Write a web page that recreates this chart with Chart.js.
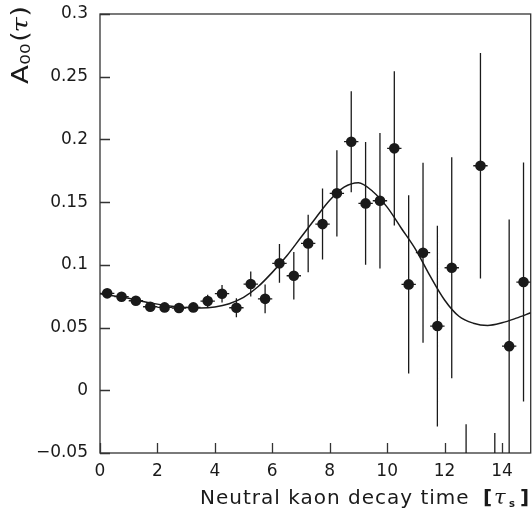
<!DOCTYPE html>
<html>
<head>
<meta charset="utf-8">
<script src="https://cdn.jsdelivr.net/npm/chart.js@4.4.1/dist/chart.umd.min.js"></script>
<style>
  body { margin: 0; background: #fff; overflow: hidden; }
  /* a little wider than the window: chart.js keeps ~5px spare on the right */
  #wrap { width: 536px; height: 516px; position: relative; }
</style>
</head>
<body>
<div id="wrap"><canvas id="chart"></canvas></div>
<script>
// Measured asymmetry per 0.5 tau_s bin
const binCenters = [0.25, 0.75, 1.25, 1.75, 2.25, 2.75, 3.25, 3.75, 4.25, 4.75,
  5.25, 5.75, 6.25, 6.75, 7.25, 7.75, 8.25, 8.75, 9.25, 9.75,
  10.25, 10.75, 11.25, 11.75, 12.25, 12.75, 13.25, 13.75, 14.25, 14.75];
const asymValues = [0.0773, 0.0746, 0.0714, 0.0666, 0.0661, 0.0656, 0.0661, 0.0711, 0.0770, 0.0658,
  0.0847, 0.0729, 0.1012, 0.0913, 0.1171, 0.1325, 0.1570, 0.1982, 0.1490, 0.1511,
  0.1929, 0.0844, 0.1097, 0.0512, 0.0977, -0.1200, 0.1790, -0.1300, 0.0352, 0.0863];
const asymErrors = [0.003, 0.003, 0.003, 0.003, 0.003, 0.003, 0.003, 0.005, 0.007, 0.0075,
  0.010, 0.0115, 0.0154, 0.019, 0.0229, 0.0283, 0.0343, 0.0403, 0.049, 0.054,
  0.0615, 0.071, 0.0718, 0.080, 0.0881, 0.093, 0.0899, 0.096, 0.101, 0.0953];
const binHalfWidth = 0.25;

// Fit curve
const fitTimes = [0, 0.5, 1, 1.5, 2, 2.5, 3, 3.5, 4, 4.5, 5, 5.5, 6, 6.5, 7, 7.5,
  8, 8.5, 9, 9.5, 10, 10.5, 11, 11.5, 12, 12.5, 13, 13.5, 14, 14.5, 15];
const fitValues = [0.0770, 0.0752, 0.0733, 0.0708, 0.0687, 0.0670, 0.0660, 0.0656, 0.0664, 0.0690,
  0.0740, 0.0825, 0.0940, 0.1070, 0.1220, 0.1370, 0.1515, 0.1620, 0.1655, 0.1585,
  0.1460, 0.1290, 0.1120, 0.0910, 0.0720, 0.0590, 0.0535, 0.0517, 0.0538, 0.0575, 0.0618];

const xTicks = [0, 2, 4, 6, 8, 10, 12, 14];
const yTicks = [-0.05, 0, 0.05, 0.1, 0.15, 0.2, 0.25, 0.3];
const yTickLabels = ['\u22120.05', '0', '0.05', '0.1', '0.15', '0.2', '0.25', '0.3'];

const ink = '#1a1a1a';
const tickFont = { family: 'DejaVu Sans', size: 17 };

// frame, inward ticks, error bars and axis titles
const decorPlugin = {
  id: 'decor',
  beforeDatasetsDraw(chart) {
    const { ctx, chartArea: a, scales: { x, y } } = chart;
    ctx.save();
    ctx.strokeStyle = '#333';
    ctx.lineWidth = 1.3;
    ctx.strokeRect(a.left, a.top, a.right - a.left, a.bottom - a.top);
    ctx.beginPath();
    xTicks.forEach(v => {
      const px = Math.round(x.getPixelForValue(v)) + 0.5;
      ctx.moveTo(px, a.bottom);
      ctx.lineTo(px, a.bottom - 10);
    });
    yTicks.forEach(v => {
      const py = Math.round(y.getPixelForValue(v)) + 0.5;
      ctx.moveTo(a.left, py);
      ctx.lineTo(a.left + 10, py);
    });
    ctx.stroke();
    ctx.restore();
  },
  afterDatasetsDraw(chart) {
    const { ctx, chartArea: a, scales: { x, y } } = chart;
    ctx.save();
    ctx.beginPath();
    ctx.rect(a.left, a.top, a.right - a.left, a.bottom - a.top);
    ctx.clip();
    ctx.strokeStyle = ink;
    ctx.lineWidth = 1.3;
    ctx.beginPath();
    for (let i = 0; i < binCenters.length; i++) {
      const t = binCenters[i], v = asymValues[i], e = asymErrors[i];
      const px = x.getPixelForValue(t);
      const py = y.getPixelForValue(v);
      ctx.moveTo(px, y.getPixelForValue(v + e));
      ctx.lineTo(px, y.getPixelForValue(v - e));
      ctx.moveTo(x.getPixelForValue(t - binHalfWidth), py);
      ctx.lineTo(x.getPixelForValue(t + binHalfWidth), py);
    }
    ctx.stroke();
    ctx.restore();

    // axis titles
    ctx.save();
    ctx.fillStyle = ink;
    ctx.textBaseline = 'alphabetic';
    ctx.textAlign = 'left';
    ctx.font = '20px "DejaVu Sans"';
    ctx.letterSpacing = '1px';
    ctx.fillText('Neutral kaon decay time', 200, 504);
    ctx.letterSpacing = '0px';
    ctx.font = 'bold 20px "DejaVu Sans"';
    ctx.fillText('[', 483, 504);
    ctx.fillText(']', 520, 504);
    ctx.font = 'italic 21px "DejaVu Serif"';
    ctx.fillText('\u03c4', 494, 504);
    ctx.font = 'bold 10px "DejaVu Sans"';
    ctx.fillText('s', 509, 507);

    ctx.translate(28, 84);
    ctx.rotate(-Math.PI / 2);
    ctx.scale(1.2, 1);
    ctx.font = '23px "DejaVu Sans"';
    ctx.fillText('A', 0, 0);
    ctx.font = '14px "DejaVu Sans"';
    ctx.fillText('00', 16, 2);
    ctx.font = '23px "DejaVu Sans"';
    ctx.fillText('(', 35, 0);
    ctx.font = 'italic 23px "DejaVu Serif"';
    ctx.fillText('\u03c4', 43, 0);
    ctx.font = '23px "DejaVu Sans"';
    ctx.fillText(')', 56, 0);
    ctx.restore();
  }
};

const ctx = document.getElementById('chart').getContext('2d');
const chart = new Chart(ctx, {
  type: 'scatter',
  data: {
    datasets: [
      {
        label: 'data',
        data: binCenters.map((t, i) => ({ x: t, y: asymValues[i] })),
        pointRadius: 5.3,
        pointHoverRadius: 5.3,
        pointBackgroundColor: ink,
        pointBorderColor: ink,
        pointBorderWidth: 0
      },
      {
        label: 'fit',
        type: 'line',
        data: fitTimes.map((t, i) => ({ x: t, y: fitValues[i] })),
        borderColor: ink,
        borderWidth: 1.5,
        pointRadius: 0,
        fill: false,
        cubicInterpolationMode: 'monotone'
      }
    ]
  },
  options: {
    responsive: true,
    maintainAspectRatio: false,
    animation: false,
    events: [],
    layout: { padding: { top: 14, right: 0, left: 0, bottom: 0 } },
    plugins: {
      legend: { display: false },
      tooltip: { enabled: false }
    },
    scales: {
      x: {
        type: 'linear',
        min: 0,
        max: 15,
        grid: { display: false, drawTicks: false },
        border: { display: false },
        afterBuildTicks: s => { s.ticks = xTicks.map(v => ({ value: v })); },
        afterFit: s => { s.height = 63; s.paddingLeft = 0; s.paddingRight = 0; },
        ticks: { font: tickFont, color: ink, padding: 8, maxRotation: 0 }
      },
      y: {
        type: 'linear',
        min: -0.05,
        max: 0.3,
        grid: { display: false, drawTicks: false },
        border: { display: false },
        afterBuildTicks: s => { s.ticks = yTicks.map(v => ({ value: v })); },
        afterFit: s => { s.width = 100; s.paddingTop = 0; s.paddingBottom = 0; },
        ticks: {
          font: tickFont,
          color: ink,
          padding: 12,
          callback: (v, i) => yTickLabels[i]
        }
      }
    }
  },
  plugins: [decorPlugin]
});
</script>
</body>
</html>
